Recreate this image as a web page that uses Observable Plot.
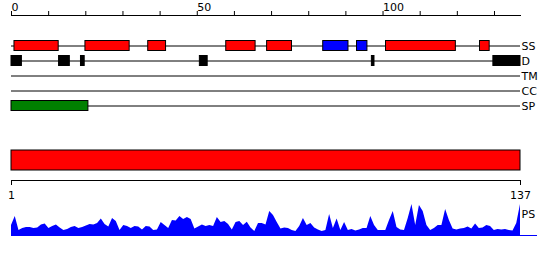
<!DOCTYPE html>
<html><head><meta charset="utf-8">
<script src="https://cdn.jsdelivr.net/npm/d3@7"></script>
<script src="https://cdn.jsdelivr.net/npm/@observablehq/plot@0.6"></script>
<style>body{margin:0;background:#fff} #chart svg{display:block}</style>
</head><body><div id="chart"></div>
<script>
// ---- data ----
const seqLength = 137;
const tracks = ["SS", "D", "TM", "CC", "SP"];
const topTicks = [0, 10, 20, 30, 40, 50, 60, 70, 80, 90, 100, 110, 120, 130];
const topTickLabels = [0, 50, 100];
const ssStart = [0.8, 19.9, 36.8, 57.8, 68.8, 83.9, 93.0, 100.8, 126.1];
const ssEnd   = [12.7, 31.8, 41.6, 65.7, 75.5, 90.7, 95.8, 119.6, 128.7];
const ssType  = ["H", "H", "H", "H", "H", "E", "E", "H", "H"];
const disStart = [0, 12.8, 18.7, 50.7, 97.0, 129.7];
const disEnd   = [2.8, 15.7, 19.7, 52.8, 97.7, 137];
const spStart = [0];
const spEnd = [20.7];
const domainStart = [1];
const domainEnd = [137];
const bottomTicks = [1, 137];
const psScore = [
  10, 19, 5, 7, 8, 8, 7, 7.5, 10.5, 11.5,
  7, 9, 10.5, 7.5, 5, 6, 8, 9, 7, 8,
  9.5, 11, 10.5, 12, 16.5, 11, 8.5, 17, 14, 5,
  10, 9, 7, 9, 8.5, 5.5, 9, 8.5, 5, 5.5,
  13, 10, 7, 15, 14.5, 19, 16, 18, 16, 6.5,
  8.5, 10.5, 9, 10, 9, 18, 13, 14, 11, 5.5,
  13, 14, 10, 13.3, 7.5, 4, 12, 12, 10.5, 24,
  20, 13, 6.5, 7.5, 7, 5, 4, 9, 17, 10,
  12, 7.5, 5.5, 4, 5, 21, 7, 16.5, 5, 13,
  5, 6, 4.5, 5.5, 7, 7, 19, 10, 5, 5,
  5, 15, 24, 8, 5.5, 5, 17, 31, 10, 30,
  24, 10, 5, 7, 10, 10, 26, 15, 6.5, 5.5,
  6.5, 7, 8.5, 6.5, 11.5, 7, 7.5, 10, 9, 5,
  6, 5.5, 6, 5, 4.5, 12, 31
];

// ---- tables ----
const ssRows = ssStart.map((s, i) => ({start: s, end: ssEnd[i], type: ssType[i], track: "SS"}));
const disRows = disStart.map((s, i) => ({start: s, end: disEnd[i], track: "D"}));
const spRows = spStart.map((s, i) => ({start: s, end: spEnd[i], track: "SP"}));
const domRows = domainStart.map((s, i) => ({start: s, end: domainEnd[i]}));
const psRows = psScore.map((v, i) => ({pos: i + 1, score: v}));

const font = {fontFamily: "DejaVu Sans, sans-serif", fontSize: "11px", color: "black", background: "white"};
const bar = {x1: "start", x2: "end", y: "track", stroke: "black", insetTop: 2.5, insetBottom: 2.5};

const p1 = Plot.plot({
  width: 550, height: 120,
  marginLeft: 11, marginRight: 30, marginTop: 15, marginBottom: 0,
  style: font,
  x: {domain: [0, seqLength], axis: null},
  y: {type: "band", domain: tracks, range: [37.5, 112.5], padding: 0, axis: null},
  marks: [
    Plot.frame({anchor: "top"}),
    Plot.axisX({anchor: "top", ticks: topTicks, tickSize: 5, tickPadding: 0,
      textAnchor: "start", tickFormat: d => topTickLabels.includes(d) ? String(d) : ""}),
    Plot.ruleY(tracks, {y: d => d, stroke: "black"}),
    Plot.barX(ssRows.filter(d => d.type === "H"), {...bar, fill: "#ff0000"}),
    Plot.barX(ssRows.filter(d => d.type === "E"), {...bar, fill: "#0000ff"}),
    Plot.barX(disRows, {...bar, fill: "black"}),
    Plot.barX(spRows, {...bar, fill: "#008000"}),
    Plot.text(tracks, {y: d => d, text: d => d, frameAnchor: "right", textAnchor: "start", dx: 1})
  ]
});

const p2 = Plot.plot({
  width: 550, height: 82,
  marginLeft: 11, marginRight: 30, marginTop: 30, marginBottom: 22,
  style: font,
  x: {domain: [1, seqLength], axis: null},
  marks: [
    Plot.rect(domRows, {x1: "start", x2: "end", fill: "#ff0000", stroke: "black", insetBottom: 10}),
    Plot.frame({anchor: "bottom"}),
    Plot.axisX({anchor: "bottom", ticks: bottomTicks, tickSize: 5, tickPadding: 6, tickFormat: d => String(d)})
  ]
});

const p3 = Plot.plot({
  width: 550, height: 58,
  marginLeft: 11, marginRight: 13, marginTop: 1, marginBottom: 25,
  style: font,
  x: {domain: [1, seqLength], range: [11, 520], axis: null},
  y: {domain: [0, 32], axis: null},
  marks: [
    Plot.areaY(psRows, {x: "pos", y: "score", fill: "#0000ff"}),
    Plot.ruleY([0], {stroke: "#0000ff"}),
    Plot.text(["PS"], {text: d => d, frameAnchor: "top-right", textAnchor: "start", dx: -16, dy: 7})
  ]
});

const chart = document.getElementById("chart");
chart.append(p1, p2, p3);
</script>
</body></html>
